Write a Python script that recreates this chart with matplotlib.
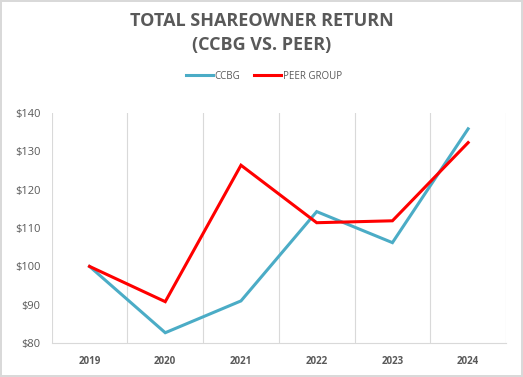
import matplotlib
matplotlib.use("Agg")
import matplotlib.pyplot as plt
import numpy as np

# data
years = ["2019", "2020", "2021", "2022", "2023", "2024"]
ccbg = [100, 82.7, 91.0, 114.3, 106.2, 135.9]
peer = [100, 90.8, 126.4, 111.4, 111.9, 132.3]
yticks = [80, 90, 100, 110, 120, 130, 140]

txt = "#595959"
fig = plt.figure(figsize=(5.23, 3.77), dpi=100)
fig.patch.set_edgecolor("#D9D9D9")
fig.patch.set_linewidth(1.5)

ax = fig.add_axes([0.0988, 0.090, 0.8687, 0.610])
x = np.arange(len(years))
ax.plot(x, ccbg, color="#4BACC6", lw=2.2, label="CCBG", solid_joinstyle="miter")
ax.plot(x, peer, color="#FF0000", lw=2.2, label="PEER GROUP", solid_joinstyle="miter")

ax.set_xlim(-0.5, len(years) - 0.5)
ax.set_ylim(80, 140)
ax.set_xticks(x)
ax.set_xticklabels(years, fontsize=7, fontweight="bold", color=txt, family="Open Sans")
ax.set_xticks(np.arange(-0.5, len(years), 1), minor=True)
ax.grid(True, which="minor", axis="x", color="#D9D9D9", lw=0.8)
ax.set_yticks(yticks)
ax.set_yticklabels(["$%d" % v for v in yticks], fontsize=8, color=txt, family="Open Sans")
ax.tick_params(which="both", length=0)
ax.tick_params(axis="x", pad=9)
ax.tick_params(axis="y", pad=8)
for s in ["top", "right", "left"]:
    ax.spines[s].set_visible(False)
ax.spines["bottom"].set_color("#D9D9D9")

fig.text(0.500, 0.943, "TOTAL SHAREOWNER RETURN", ha="center", va="center",
         fontsize=13, fontweight="bold", color=txt, family="Open Sans")
fig.text(0.500, 0.880, "(CCBG VS. PEER)", ha="center", va="center",
         fontsize=13, fontweight="bold", color=txt, family="Open Sans")

fig.legend(loc="center", bbox_to_anchor=(0.505, 0.798), ncol=2, frameon=False,
           labelcolor=txt, handlelength=2.8, handletextpad=0.15,
           columnspacing=1.4, prop={"family": "Open Sans", "size": 7})

fig.savefig("out.png", dpi=100)
